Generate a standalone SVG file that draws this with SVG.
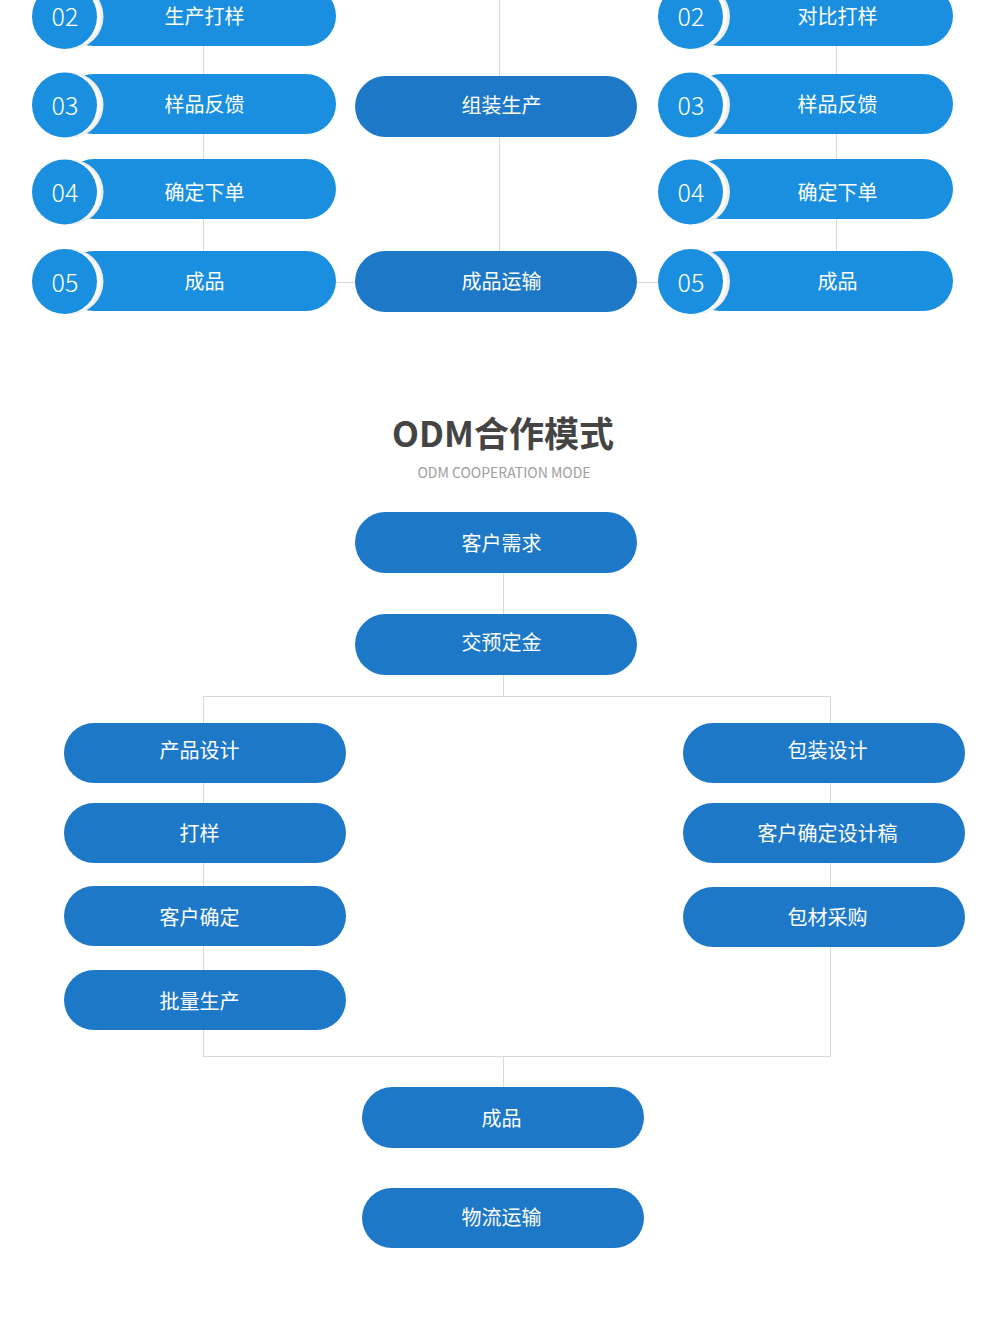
<svg xmlns="http://www.w3.org/2000/svg" width="1000" height="1319" viewBox="0 0 1000 1319">
<style>
.bg{fill:#ffffff}
.ln{stroke:#d9d9d9;stroke-width:1;fill:none}
.pl{fill:#1a8fe0}
.pd{fill:#1e78c8}
.cr{fill:#eeeeee}
.cw{fill:#ffffff}
.t{font-family:"Noto Sans CJK SC","Noto Sans",sans-serif;font-size:20px;fill:#ffffff;text-anchor:middle;dominant-baseline:central}
.n{font-family:"Noto Sans CJK SC","Noto Sans",sans-serif;font-size:25px;font-weight:300;fill:#ffffff;text-anchor:middle;dominant-baseline:central}
.ti{font-family:"Noto Sans CJK SC","Noto Sans",sans-serif;font-size:35px;font-weight:bold;fill:#444444;text-anchor:middle}
.st{font-family:"Noto Sans CJK SC","Noto Sans",sans-serif;font-size:14px;fill:#9e9e9e;text-anchor:middle}
</style>
<rect class="bg" x="0" y="0" width="1000" height="1319"/>
<g id="connectors">
<line class="ln" x1="203.5" y1="0" x2="203.5" y2="282"/>
<line class="ln" x1="499.5" y1="0" x2="499.5" y2="282"/>
<line class="ln" x1="836.5" y1="0" x2="836.5" y2="282"/>
<line class="ln" x1="203" y1="282.5" x2="837" y2="282.5"/>
<line class="ln" x1="503.5" y1="573" x2="503.5" y2="696"/>
<rect class="ln" x="203.5" y="696.5" width="627" height="360"/>
<line class="ln" x1="503.5" y1="1056" x2="503.5" y2="1087"/>
</g>
<g id="l02"><rect class="pl" x="64" y="-14" width="272" height="60" rx="30"/><circle class="cr" cx="71" cy="16.5" r="32.5"/><circle class="cw" cx="69" cy="16.5" r="31.5"/><circle class="pl" cx="64.5" cy="16.5" r="32.5"/><text class="n" x="65" y="14.5">02</text><text class="t" x="204.5" y="15">生产打样</text></g>
<g id="l03"><rect class="pl" x="64" y="74" width="272" height="60" rx="30"/><circle class="cr" cx="71" cy="105" r="32.5"/><circle class="cw" cx="69" cy="105" r="31.5"/><circle class="pl" cx="64.5" cy="105" r="32.5"/><text class="n" x="65" y="103.5">03</text><text class="t" x="204.5" y="103">样品反馈</text></g>
<g id="l04"><rect class="pl" x="64" y="159" width="272" height="60" rx="30"/><circle class="cr" cx="71" cy="192" r="32.5"/><circle class="cw" cx="69" cy="192" r="31.5"/><circle class="pl" cx="64.5" cy="192" r="32.5"/><text class="n" x="65" y="190.5">04</text><text class="t" x="204.5" y="191">确定下单</text></g>
<g id="l05"><rect class="pl" x="64" y="251" width="272" height="60" rx="30"/><circle class="cr" cx="71" cy="281.5" r="32.5"/><circle class="cw" cx="69" cy="281.5" r="31.5"/><circle class="pl" cx="64.5" cy="281.5" r="32.5"/><text class="n" x="65" y="280.5">05</text><text class="t" x="204.5" y="280">成品</text></g>
<g id="c1"><rect class="pd" x="355" y="76" width="282" height="61" rx="30.5"/><text class="t" x="501.5" y="104">组装生产</text></g>
<g id="c2"><rect class="pd" x="355" y="251" width="282" height="61" rx="30.5"/><text class="t" x="501.5" y="280">成品运输</text></g>
<g id="r02"><rect class="pl" x="691" y="-14" width="262" height="60" rx="30"/><circle class="cr" cx="697.5" cy="16.5" r="32.5"/><circle class="cw" cx="695.5" cy="16.5" r="31.5"/><circle class="pl" cx="690.5" cy="16.5" r="32.5"/><text class="n" x="691" y="14.5">02</text><text class="t" x="837.5" y="15">对比打样</text></g>
<g id="r03"><rect class="pl" x="691" y="74" width="262" height="60" rx="30"/><circle class="cr" cx="697.5" cy="105" r="32.5"/><circle class="cw" cx="695.5" cy="105" r="31.5"/><circle class="pl" cx="690.5" cy="105" r="32.5"/><text class="n" x="691" y="103.5">03</text><text class="t" x="837.5" y="103">样品反馈</text></g>
<g id="r04"><rect class="pl" x="691" y="159" width="262" height="60" rx="30"/><circle class="cr" cx="697.5" cy="192" r="32.5"/><circle class="cw" cx="695.5" cy="192" r="31.5"/><circle class="pl" cx="690.5" cy="192" r="32.5"/><text class="n" x="691" y="190.5">04</text><text class="t" x="837.5" y="191">确定下单</text></g>
<g id="r05"><rect class="pl" x="691" y="251" width="262" height="60" rx="30"/><circle class="cr" cx="697.5" cy="281.5" r="32.5"/><circle class="cw" cx="695.5" cy="281.5" r="31.5"/><circle class="pl" cx="690.5" cy="281.5" r="32.5"/><text class="n" x="691" y="280.5">05</text><text class="t" x="837.5" y="280">成品</text></g>
<g id="title"><text class="ti" x="503" y="447">ODM合作模式</text><text class="st" x="504" y="478">ODM COOPERATION MODE</text></g>
<g id="o1"><rect class="pd" x="355" y="512" width="282" height="61" rx="30.5"/><text class="t" x="501.5" y="542">客户需求</text></g>
<g id="o2"><rect class="pd" x="355" y="614" width="282" height="61" rx="30.5"/><text class="t" x="501.5" y="641">交预定金</text></g>
<g id="a1"><rect class="pd" x="64" y="723" width="282" height="60" rx="30"/><text class="t" x="199.5" y="749">产品设计</text></g>
<g id="a2"><rect class="pd" x="64" y="803" width="282" height="60" rx="30"/><text class="t" x="199.5" y="832">打样</text></g>
<g id="a3"><rect class="pd" x="64" y="886" width="282" height="60" rx="30"/><text class="t" x="199.5" y="916">客户确定</text></g>
<g id="a4"><rect class="pd" x="64" y="970" width="282" height="60" rx="30"/><text class="t" x="199.5" y="1000">批量生产</text></g>
<g id="b1"><rect class="pd" x="683" y="723" width="282" height="60" rx="30"/><text class="t" x="827.5" y="749">包装设计</text></g>
<g id="b2"><rect class="pd" x="683" y="803" width="282" height="60" rx="30"/><text class="t" x="827.5" y="832">客户确定设计稿</text></g>
<g id="b3"><rect class="pd" x="683" y="887" width="282" height="60" rx="30"/><text class="t" x="827.5" y="916">包材采购</text></g>
<g id="o3"><rect class="pd" x="362" y="1087" width="282" height="61" rx="30.5"/><text class="t" x="501.5" y="1117">成品</text></g>
<g id="o4"><rect class="pd" x="362" y="1188" width="282" height="60" rx="30"/><text class="t" x="501.5" y="1216">物流运输</text></g>
</svg>
